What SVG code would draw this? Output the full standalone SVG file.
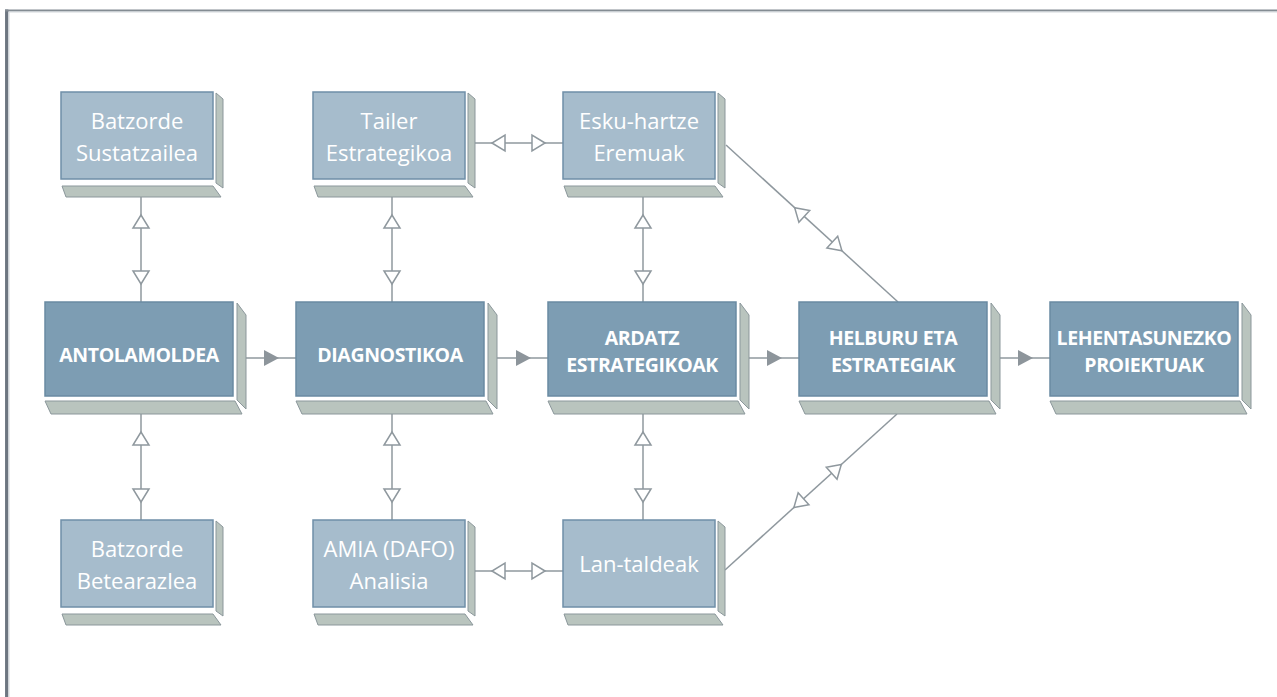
<svg xmlns="http://www.w3.org/2000/svg" xmlns:xlink="http://www.w3.org/1999/xlink" width="1277" height="697" viewBox="0 0 1277 697">
<style>
.frameL{stroke:#6d7680;stroke-width:3.3;fill:none}
.frameT{stroke:#848c93;stroke-width:2;fill:none}
.frameIn{stroke:#d3d8dc;stroke-width:1;fill:none}
.sm{fill:#a6bccc;stroke:#6f8fa8;stroke-width:1.5}
.lg{fill:#7d9db3;stroke:#6a8aa2;stroke-width:1.5}
.pan{fill:#b9c4be;stroke:#8b979b;stroke-width:1}
.ln{stroke:#8f989e;stroke-width:1.5;fill:none}
.open{fill:#ffffff;stroke:#8f989e;stroke-width:1.5;stroke-linejoin:miter}
.fill{fill:#8d959b;stroke:none}
.ts{font-family:"Open Sans","Noto Sans",sans-serif;font-size:22px;fill:#ffffff;text-anchor:middle}
.tl{font-family:"Open Sans","Noto Sans",sans-serif;font-size:19.5px;letter-spacing:-0.4px;font-weight:bold;fill:#ffffff;text-anchor:middle}
</style>
<defs>
<path id="tri" d="M0,0 L-13,-8 L-13,8 Z" class="open"/>
<path id="ftri" d="M0,0 L-15,-8 L-15,8 Z" class="fill"/>
</defs>
<rect width="1277" height="697" fill="#ffffff"/>
<g id="frame">
<line class="frameL" x1="6.7" y1="9.5" x2="6.7" y2="697"/>
<line class="frameT" x1="5" y1="10.5" x2="1277" y2="10.5"/>
<line class="frameIn" x1="9" y1="12" x2="9" y2="697"/>
<line class="frameIn" x1="9" y1="12" x2="1277" y2="12"/>
</g>
<g id="connectors">
<line class="ln" x1="141" y1="197" x2="141" y2="302"/>
<use xlink:href="#tri" transform="translate(141,215) rotate(-90)"/>
<use xlink:href="#tri" transform="translate(141,284) rotate(90)"/>
<line class="ln" x1="392" y1="197" x2="392" y2="302"/>
<use xlink:href="#tri" transform="translate(392,215) rotate(-90)"/>
<use xlink:href="#tri" transform="translate(392,284) rotate(90)"/>
<line class="ln" x1="643" y1="197" x2="643" y2="302"/>
<use xlink:href="#tri" transform="translate(643,215) rotate(-90)"/>
<use xlink:href="#tri" transform="translate(643,284) rotate(90)"/>
<line class="ln" x1="141" y1="414" x2="141" y2="520"/>
<use xlink:href="#tri" transform="translate(141,432) rotate(-90)"/>
<use xlink:href="#tri" transform="translate(141,502) rotate(90)"/>
<line class="ln" x1="392" y1="414" x2="392" y2="520"/>
<use xlink:href="#tri" transform="translate(392,432) rotate(-90)"/>
<use xlink:href="#tri" transform="translate(392,502) rotate(90)"/>
<line class="ln" x1="643" y1="414" x2="643" y2="520"/>
<use xlink:href="#tri" transform="translate(643,432) rotate(-90)"/>
<use xlink:href="#tri" transform="translate(643,502) rotate(90)"/>
<line class="ln" x1="475" y1="143" x2="563" y2="143"/>
<use xlink:href="#tri" transform="translate(492,143) rotate(180)"/>
<use xlink:href="#tri" transform="translate(545,143)"/>
<line class="ln" x1="475" y1="571" x2="563" y2="571"/>
<use xlink:href="#tri" transform="translate(492,571) rotate(180)"/>
<use xlink:href="#tri" transform="translate(545,571)"/>
<line class="ln" x1="726" y1="145" x2="898" y2="302"/>
<use xlink:href="#tri" transform="translate(794.7,207.7) rotate(222.4)"/>
<use xlink:href="#tri" transform="translate(841.9,250.8) rotate(42.4)"/>
<line class="ln" x1="725" y1="570" x2="897" y2="414"/>
<use xlink:href="#tri" transform="translate(793.9,507.5) rotate(137.8)"/>
<use xlink:href="#tri" transform="translate(841.3,464.5) rotate(-42.2)"/>
<line class="ln" x1="246" y1="358" x2="296" y2="358"/>
<use xlink:href="#ftri" transform="translate(279,358)"/>
<line class="ln" x1="497" y1="358" x2="548" y2="358"/>
<use xlink:href="#ftri" transform="translate(531,358)"/>
<line class="ln" x1="749" y1="358" x2="799" y2="358"/>
<use xlink:href="#ftri" transform="translate(782,358)"/>
<line class="ln" x1="1000" y1="358" x2="1050" y2="358"/>
<use xlink:href="#ftri" transform="translate(1033,358)"/>
</g>
<g id="batzorde-sustatzailea">
<polygon class="pan" points="216,93 223,99 223,188 216,183"/>
<polygon class="pan" points="62,186 213,186 221,197 66,197"/>
<rect class="sm" x="61" y="92" width="152" height="87"/>
<text class="ts" x="137" y="129">Batzorde</text>
<text class="ts" x="137" y="161">Sustatzailea</text>
</g>
<g id="tailer-estrategikoa">
<polygon class="pan" points="468,93 475,99 475,188 468,183"/>
<polygon class="pan" points="314,186 465,186 473,197 318,197"/>
<rect class="sm" x="313" y="92" width="152" height="87"/>
<text class="ts" x="389" y="129">Tailer</text>
<text class="ts" x="389" y="161">Estrategikoa</text>
</g>
<g id="esku-hartze-eremuak">
<polygon class="pan" points="718,93 725,99 725,188 718,183"/>
<polygon class="pan" points="564,186 715,186 723,197 568,197"/>
<rect class="sm" x="563" y="92" width="152" height="87"/>
<text class="ts" x="639" y="129">Esku-hartze</text>
<text class="ts" x="639" y="161">Eremuak</text>
</g>
<g id="batzorde-betearazlea">
<polygon class="pan" points="216,521 223,527 223,616 216,611"/>
<polygon class="pan" points="62,614 213,614 221,625 66,625"/>
<rect class="sm" x="61" y="520" width="152" height="87"/>
<text class="ts" x="137" y="557">Batzorde</text>
<text class="ts" x="137" y="589">Betearazlea</text>
</g>
<g id="amia-analisia">
<polygon class="pan" points="468,521 475,527 475,616 468,611"/>
<polygon class="pan" points="314,614 465,614 473,625 318,625"/>
<rect class="sm" x="313" y="520" width="152" height="87"/>
<text class="ts" x="389" y="557">AMIA (DAFO)</text>
<text class="ts" x="389" y="589">Analisia</text>
</g>
<g id="lan-taldeak">
<polygon class="pan" points="718,521 725,527 725,616 718,611"/>
<polygon class="pan" points="564,614 715,614 723,625 568,625"/>
<rect class="sm" x="563" y="520" width="152" height="87"/>
<text class="ts" x="639" y="572">Lan-taldeak</text>
</g>
<g id="antolamoldea">
<polygon class="pan" points="237,303 246,315 246,409 237,400"/>
<polygon class="pan" points="45,401 235,401 242,414 51,414"/>
<rect class="lg" x="45" y="302" width="188" height="94"/>
<text class="tl" x="139" y="362">ANTOLAMOLDEA</text>
</g>
<g id="diagnostikoa">
<polygon class="pan" points="488,303 497,315 497,409 488,400"/>
<polygon class="pan" points="296,401 486,401 493,414 302,414"/>
<rect class="lg" x="296" y="302" width="188" height="94"/>
<text class="tl" x="390" y="362">DIAGNOSTIKOA</text>
</g>
<g id="ardatz-estrategikoak">
<polygon class="pan" points="740,303 749,315 749,409 740,400"/>
<polygon class="pan" points="548,401 738,401 745,414 554,414"/>
<rect class="lg" x="548" y="302" width="188" height="94"/>
<text class="tl" x="642" y="345">ARDATZ</text>
<text class="tl" x="642" y="372">ESTRATEGIKOAK</text>
</g>
<g id="helburu-eta-estrategiak">
<polygon class="pan" points="991,303 1000,315 1000,409 991,400"/>
<polygon class="pan" points="799,401 989,401 996,414 805,414"/>
<rect class="lg" x="799" y="302" width="188" height="94"/>
<text class="tl" x="893" y="345">HELBURU ETA</text>
<text class="tl" x="893" y="372">ESTRATEGIAK</text>
</g>
<g id="lehentasunezko-proiektuak">
<polygon class="pan" points="1242,303 1251,315 1251,409 1242,400"/>
<polygon class="pan" points="1050,401 1240,401 1247,414 1056,414"/>
<rect class="lg" x="1050" y="302" width="188" height="94"/>
<text class="tl" x="1144" y="345">LEHENTASUNEZKO</text>
<text class="tl" x="1144" y="372">PROIEKTUAK</text>
</g>
</svg>
